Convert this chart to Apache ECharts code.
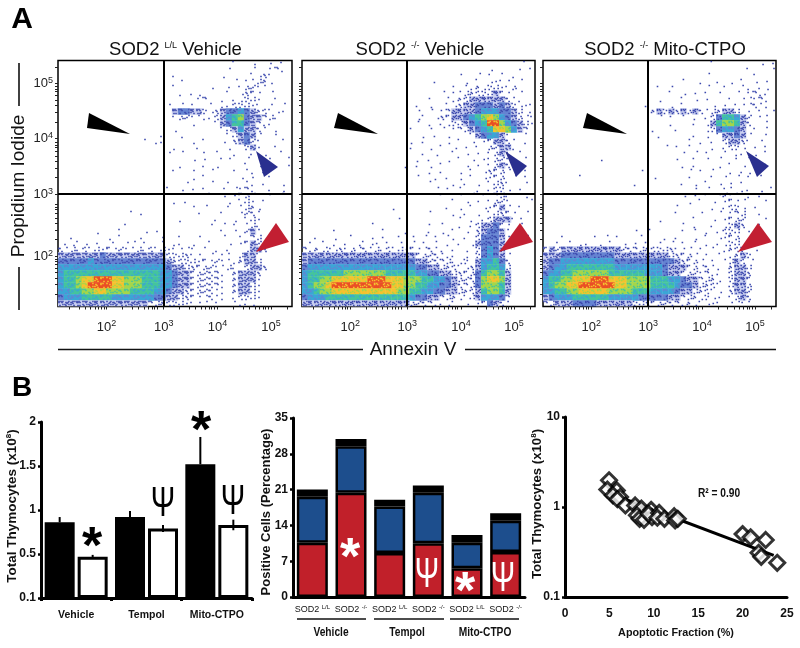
<!DOCTYPE html>
<html>
<head>
<meta charset="utf-8">
<style>html,body{margin:0;padding:0;background:#fff}#chart{width:800px;height:648px}</style>
<script src="https://cdn.jsdelivr.net/npm/echarts@6/dist/echarts.min.js"></script>
</head>
<body>
<div id="chart"></div>
<script>
// flow panels: density per 6px cell, top row first, '.' = empty, 1 = stray dots, 9 = hottest
var sodLLCells = [
".............................1..1..1.1.",
"............................1...1..121.",
"...................1.......1....1121...",
"....................1........1.11221...",
"...................1.....1..1.12211....",
"....................1.11....1.1221.1...",
".......................12..1.11221..1..",
"..................1.1.1..1.1122211.1.1.",
"...................3443321234454322111.",
"...................122111123567433221..",
"......................1...1346643211...",
"...................1.......12353321.1..",
".................1..1.......123431..1..",
"..............1.11....1.1..1.23421...1.",
"...................1...1....1..231..1..",
"..................1.1...1.1..1..1.1..1.",
"......................1.1..11..1...1..1",
"....................1...1.1....1.1....1",
"...................1..1..1...1.11.1....",
"......................1.1.....1.1..1...",
".....................1...1..1..11.1..1.",
"..................1.1.1.1..1.1121..1.1.",
".........................1.1.1221..1.1.",
"...................1.1......1.121.1....",
"......................1.1...1.1221.....",
"............11.........1...1..1221.....",
"....................1.....1..1.121.....",
"...........1.............1.1.1.121.....",
"......1...1...1.1..........1.1.231..1..",
"..1.....1.1..1...1..1..1...1..1.22.....",
".1111.1..1.11.1..1.11.1..1..1.1232.....",
"21212121212112121211111.1.1.1..1332....",
"333333343333333333222211.1.11.2331.....",
"4444454444444444443222212121112332.....",
"555555555555555555433222221121.2332....",
"5666666666666666655433222221.23332.....",
"5667889998877766655433222221.23331.....",
"5667899998877766655433222221.23321.....",
"5566778877776666554332222211.23321.....",
"4555666665555555443322211211.12221.....",
"3333333333333332222221111.1..1111......"
];
var sodKOCells = [
".....................................1.",
"...............................1....1.1",
"..........................1..1.1.1.1...",
"......................1....1.1.1111.1..",
".........................1.112122112...",
".......................1.1122222321.1..",
".....................1..1122333333211..",
"...................1.1..112334443432111",
"...................1.1.12333345554432.1",
"...................11.12233456787543211",
"...................1.1.1122345699754321",
"..................1..1.1.1223456887532.",
"....................1.1.1...1345531..1.",
"..................1.1...1.1.1.123321.1.",
"..................1..1.1.1.1.1.22331...",
"....................1.1..1.1.1.1231.1..",
"...................1.1..1.1.1.11221..1.",
".................1.1.1.1...1.1.1232.1..",
".....................1.1..1.1.12221..1.",
"...................1..1.1.1.1.1122.1.1.",
".....................1...1.1.1.1221..1.",
"......................1.1.1..1.1221.1..",
".......................1..1.1.1.221..1.",
".........................1.1.1.1221...1",
"...............1........1.1.1.11231.1..",
".....................1...1.1.1.12221.1.",
"................1.........1.1.1233311..",
"...........1.........1.1..1.1233421.1..",
".....1.......1...1...1.1.1.1.234431.1..",
"..1..1..1..1.1..1.1.1.1.11.1.244431..1.",
".1.1.1.1.1111.1.1.1.1.1.1.1.1344431.1..",
"212121212121212121211211.1.1.245431....",
"33333333333333333332222111.1.245431....",
"3444444444444444444332222112.355642....",
"45555555555555555554433222112356652....",
"56666667777777666665544332222467763....",
"56677888888999888777665543222478873....",
"56778999999999988776655443222477763....",
"55677888888888887766554433222367763....",
"45556666666666666654433222112355542....",
"33333333333333333322221111.1.124321...."
];
var mitoCells = [
"............................1.......1.1",
"..................................1...1.",
"...........................1.......1...",
".......................1..1..1.1.1.1.1.",
"...................1.1.....1..1..11.11.",
".....................1.1.1.1.1..1.1211.",
"...................1...1.1.1...1.11121.",
".................1...1.1....1.1.111211.",
"..................232323232122332.1.1.1",
"...................1.1.1.1.12466532.11.",
".....................1...1.13677632..1.",
"..................1...1....1245543.1.1.",
"...................1.....1.1.133431..1.",
"........................1.1.1.23321.1..",
"....................1.1.1...1.1221.1.1.",
".......................1.1.1..1.11.1.1.",
".........1............1..1.1.1..1.1....",
".......................1.1...1.1.1.1.1.",
"................1.......1.1.1..1.11....",
"......1...........1.....1...1.1.1.1.1..",
"...............1.......1.1.1.1.1.1.....",
".........................1.1..11.11.1.1",
".......................1.1.1.1211.1.1..",
"........................1.1.1.1211...1.",
"......................1.....1.1221.1...",
"......................1...1..1.122..1..",
"...................1.....1..1.1222...1.",
".......................1.1..1.1232..1..",
"...............1.1.....1.1.1.1222.1....",
"...1....1.1.1...1...1.1..1.1.1122.1....",
"..1.1.11.1.1.1.1.1.1.1.1.1.1.1122.1....",
"2323333333333222222222111.1.1.1222.1...",
"33344444444433333333322221.1.1.1232....",
"344555555555444444444432221.1.1232.1...",
"345566666666555555554333221211.2332....",
"455667777776666665554332221211.2332....",
"566778889998887777666554332221.2332....",
"567788999999887777666654432221.2332....",
"556677888887777666555543322211.2332....",
"345556666665555544444332221211.1232....",
"223334444333333222222221211111.1111...."
];
var panelTitles = ["SOD2 {sup|L/L} Vehicle", "SOD2 {sup|-/-} Vehicle", "SOD2 {sup|-/-} Mito-CTPO"];
var flowLabels = ["2", "3", "4", "5"];
var flowXTicks = [1.97, 3.03, 4.03, 5.02];
var flowYTicks = [1.91, 3.02, 4.02, 5];
var decadeSteps = [0.3, 0.48, 0.6, 0.7, 0.78, 0.85, 0.9, 0.95];
var densityColors = ["#fff", "#3d4aae", "#3d4aae", "#3d4aae", "#6583d2", "#3aa6d6", "#45c49c", "#a4d64a", "#f5c22e", "#ea4f25"];

// total thymocytes bars
var treatments = ["Vehicle", "Tempol", "Mito-CTPO"];
var llCounts = [0.86, 0.92, 1.52];
var llErrTop = [0.92, 0.99, 1.83];
var koCounts = [0.47, 0.79, 0.83];
var koErrTop = [0.49, 0.83, 0.89];
var koErrLow = [0.45, 0.75, 0.77];

// apoptotic stacks
var stackCats = ["SOD2 {s|L/L}", "SOD2 {s|-/-}", "SOD2 {s|L/L}", "SOD2 {s|-/-}", "SOD2 {s|L/L}", "SOD2 {s|-/-}"];
var redPart = [10.6, 20.4, 8.6, 10.5, 5.6, 8.8];
var bluePart = [9.0, 9.1, 9.1, 9.9, 5.0, 6.1];
var blackPart = [1.4, 1.4, 1.3, 1.4, 1.5, 1.5];

// correlation
var apoptotic = [4.96, 4.77, 5.83, 5.4, 6.2, 5.9, 6.8, 7.9, 8.6, 8.1, 8.4, 8.9, 9.7, 9.8, 9.4, 10.6, 10.4, 11.2, 12.3, 12.4, 12.7, 20, 20.9, 22.6, 21.8, 22.1, 23.9];
var thymocytes = [1.98, 1.56, 1.53, 1.35, 1.29, 1.22, 1.04, 1.04, 0.96, 0.81, 0.74, 0.72, 0.93, 0.77, 0.84, 0.86, 0.76, 0.74, 0.79, 0.71, 0.74, 0.5, 0.46, 0.43, 0.31, 0.28, 0.24];
var trendX = [4.9, 23.5];
var trendY = [1.43, 0.29];

var SANS = "Liberation Sans";
var xRange = [1.07, 5.41], yRange = [1.01, 5.41];
var flowGrids = [{left: 58, width: 234, title: 170.5}, {left: 302, width: 233, title: 415}, {left: 543, width: 233, title: 660}];
var speckOffsets = [[-2, -2], [1, -1], [-1, 2], [2, 1], [2, -2], [-2, 1], [0, 0], [-1, -1], [1, 2], [-2, -1], [0, -2]];
var speckCount = [0, 1, 3, 7];

function cellsToData(rows) {
    var out = [];
    var cw = (xRange[1] - xRange[0]) / 39, ch = (yRange[1] - yRange[0]) / 41;
    for (var r = 0; r < rows.length; r++) {
        for (var c = 0; c < rows[r].length; c++) {
            var d = rows[r].charAt(c);
            if (d != ".") out.push([xRange[0] + (c + 0.5) * cw, yRange[1] - (r + 0.5) * ch, +d]);
        }
    }
    return out;
}

// a cell is drawn as loose dots when thin, a filled square with a few specks when dense
function renderCell(params, api) {
    var p = api.coord([api.value(0), api.value(1)]);
    var d = api.value(2);
    var kids = [];
    var start = (params.dataIndex * 3) % speckOffsets.length;
    function speck(k, color) {
        var o = speckOffsets[(start + k) % speckOffsets.length];
        kids.push({type: "rect", shape: {x: p[0] + o[0] - 0.8, y: p[1] + o[1] - 0.8, width: 1.6, height: 1.6}, style: {fill: color}});
    }
    if (d == 3) {
        kids.push({type: "rect", shape: {x: p[0] - 3.2, y: p[1] - 3.2, width: 6.4, height: 6.4}, style: {fill: "#c9cff0"}});
    }
    if (d <= 3) {
        for (var i = 0; i < speckCount[d]; i++) speck(i, densityColors[d]);
    } else {
        kids.push({type: "rect", shape: {x: p[0] - 3.2, y: p[1] - 3.2, width: 6.4, height: 6.4}, style: {fill: densityColors[d]}});
        for (var j = 0; j < 4; j++) speck(j, densityColors[d - 1]);
    }
    return {type: "group", children: kids};
}

function minorTicks(major, range) {
    var out = [];
    var step = major[3] - major[2];
    major.concat([major[0] - step]).forEach(function (m) {
        out.push(m);
        decadeSteps.forEach(function (o) {
            var v = m + o * step;
            if (v > range[0] && v < range[1]) out.push(v);
        });
    });
    return out;
}

function decadeLabel(ticks) {
    return function (v) {
        var i = ticks.indexOf(v);
        return i < 0 ? "" : "{b|10}{e|" + flowLabels[i] + "}";
    };
}
var decadeRich = {
    b: {fontFamily: SANS, fontSize: 13, color: "#222"},
    e: {fontFamily: SANS, fontSize: 9, color: "#222", padding: [0, 0, 6, 0]}
};

var grids = [], xAxes = [], yAxes = [], series = [], titles = [];

flowGrids.forEach(function (g, i) {
    grids.push({left: g.left, top: 60.5, width: g.width, height: 246, show: true, borderColor: "#000", borderWidth: 1.5, backgroundColor: "#fff"});
    xAxes.push({
        type: "value", gridIndex: i, min: xRange[0], max: xRange[1],
        splitLine: {show: false}, axisLine: {show: false},
        axisTick: {length: 3, lineStyle: {color: "#222"}, customValues: minorTicks(flowXTicks, xRange)},
        axisLabel: {margin: 13, customValues: flowXTicks, formatter: decadeLabel(flowXTicks), rich: decadeRich}
    });
    yAxes.push({
        type: "value", gridIndex: i, min: yRange[0], max: yRange[1],
        splitLine: {show: false}, axisLine: {show: false},
        axisTick: {length: 3, lineStyle: {color: "#222"}, customValues: minorTicks(flowYTicks, yRange)},
        axisLabel: {show: i == 0, margin: 5, customValues: flowYTicks, formatter: decadeLabel(flowYTicks), rich: decadeRich}
    });
    series.push({
        type: "custom", xAxisIndex: i, yAxisIndex: i, clip: true,
        encode: {x: 0, y: 1},
        renderItem: renderCell,
        data: cellsToData([sodLLCells, sodKOCells, mitoCells][i]),
        markLine: {
            silent: true, symbol: "none", animation: false, label: {show: false},
            lineStyle: {color: "#000", width: 2, type: "solid"},
            data: [{xAxis: flowXTicks[1]}, {yAxis: flowYTicks[1]}]
        }
    });
    titles.push({
        text: panelTitles[i], left: g.title, top: 35, textAlign: "center",
        textStyle: {fontFamily: SANS, fontSize: 18.5, fontWeight: "normal", color: "#111",
            rich: {sup: {fontFamily: SANS, fontSize: 9, color: "#111", padding: [0, 0, 8, 0]}}}
    });
});

// left bars
var axisBold = {fontFamily: SANS, fontWeight: "bold", fontSize: 11, color: "#111"};
var thickLine = {show: true, lineStyle: {color: "#000", width: 3}};

grids.push({left: 41, top: 422, width: 211, height: 176});
xAxes.push({type: "category", gridIndex: 3, data: treatments, axisLine: thickLine,
    axisTick: {show: true, length: 3, lineStyle: {width: 3, color: "#000"}},
    axisLabel: Object.assign({margin: 12, interval: 0}, axisBold, {fontSize: 10.5})});
yAxes.push({type: "value", gridIndex: 3, min: 0, max: 2, interval: 0.5, splitLine: {show: false},
    axisLine: thickLine, axisTick: {show: true, length: 3, lineStyle: {width: 2.5, color: "#000"}},
    axisLabel: Object.assign({margin: 5, formatter: function (v) { return v == 0 ? "0.1" : v; }}, axisBold, {fontSize: 12})});
series.push({type: "bar", xAxisIndex: 3, yAxisIndex: 3, data: llCounts, barWidth: 30, barGap: "10%",
    itemStyle: {color: "#000", borderColor: "#000", borderWidth: 2.5}});
series.push({type: "bar", xAxisIndex: 3, yAxisIndex: 3, data: koCounts, barWidth: 30,
    itemStyle: {color: "#fff", borderColor: "#000", borderWidth: 3}});

function errSeries(lows, tops, shift) {
    return {
        type: "custom", xAxisIndex: 3, yAxisIndex: 3, z: 5,
        data: lows.map(function (l, i) { return [i, l, tops[i]]; }),
        encode: {x: 0, y: [1, 2]},
        renderItem: function (params, api) {
            var a = api.coord([api.value(0), api.value(1)]);
            var b = api.coord([api.value(0), api.value(2)]);
            return {type: "line", shape: {x1: a[0] + shift, y1: a[1], x2: b[0] + shift, y2: b[1]},
                style: {stroke: "#000", lineWidth: 2}};
        }
    };
}
series.push(errSeries(llCounts, llErrTop, -16.5));
series.push(errSeries(koErrLow, koErrTop, 16.5));

// stacked bars
grids.push({left: 293, top: 418, width: 232, height: 179});
xAxes.push({type: "category", gridIndex: 4, data: stackCats, axisLine: thickLine, axisTick: {show: false},
    axisLabel: {margin: 7, interval: 0, fontFamily: SANS, fontSize: 9, color: "#111",
        rich: {s: {fontFamily: SANS, fontSize: 6, color: "#111", padding: [0, 0, 5, 0]}}}});
yAxes.push({type: "value", gridIndex: 4, min: 0, max: 35, interval: 7, splitLine: {show: false},
    axisLine: thickLine, axisTick: {show: true, length: 3, lineStyle: {width: 2.5, color: "#000"}},
    axisLabel: Object.assign({margin: 5}, axisBold, {fontSize: 12})});
[[redPart, "#c1202a"], [bluePart, "#1d4e8d"], [blackPart, "#000"]].forEach(function (p) {
    series.push({type: "bar", xAxisIndex: 4, yAxisIndex: 4, stack: "cells", data: p[0], barWidth: 31,
        itemStyle: {color: p[1], borderColor: "#000", borderWidth: 2.5}});
});

// correlation scatter
grids.push({left: 565, top: 417, width: 222, height: 180});
xAxes.push({type: "value", gridIndex: 5, min: 0, max: 25, interval: 5, splitLine: {show: false},
    axisLine: thickLine, axisTick: {show: false}, axisLabel: Object.assign({margin: 11}, axisBold, {fontSize: 12}),
    name: "Apoptotic Fraction (%)", nameLocation: "middle", nameGap: 31,
    nameTextStyle: {fontFamily: SANS, fontWeight: "bold", fontSize: 10.8, color: "#111"}});
yAxes.push({type: "log", gridIndex: 5, min: 0.1, max: 10, splitLine: {show: false},
    axisLine: thickLine, axisTick: {show: true, length: 3, lineStyle: {width: 2.5, color: "#000"}},
    axisLabel: Object.assign({margin: 5}, axisBold, {fontSize: 12})});
series.push({type: "line", xAxisIndex: 5, yAxisIndex: 5, symbol: "none", z: 2,
    data: trendX.map(function (x, i) { return [x, trendY[i]]; }),
    lineStyle: {color: "#000", width: 3}});
series.push({type: "scatter", xAxisIndex: 5, yAxisIndex: 5, symbol: "diamond", symbolSize: 15, z: 3,
    data: apoptotic.map(function (x, i) { return [x, thymocytes[i]]; }),
    itemStyle: {color: "#fff", borderColor: "#000", borderWidth: 3}});

// arrowheads, panel letters, brackets and significance marks
function tri(pts, color) {
    return {type: "polygon", z: 100, shape: {points: pts}, style: {fill: color}};
}
function txt(x, y, s, size, color, extra, sx) {
    return {type: "text", z: 100, x: x, y: y, scaleX: sx || 1, style: Object.assign({text: s, fontSize: size, fill: color,
        fontFamily: SANS, align: "center", verticalAlign: "middle"}, extra || {})};
}
function vtxt(x, y, s, size, extra) {
    return {type: "text", z: 100, x: x, y: y, rotation: Math.PI / 2, style: Object.assign({text: s, fontSize: size, fill: "#111",
        fontFamily: SANS, align: "center", verticalAlign: "middle"}, extra || {})};
}
function seg(x1, y1, x2, y2, w) {
    return {type: "line", z: 100, shape: {x1: x1, y1: y1, x2: x2, y2: y2}, style: {stroke: "#111", lineWidth: w}};
}
var BOLD = {fontWeight: "bold"};
var SUP8 = {fontWeight: "bold", rich: {e: {fontFamily: SANS, fontWeight: "bold", fontSize: 8, fill: "#111", padding: [0, 0, 6, 0]}}};
var overlays = [
    tri([[89, 113], [130, 134], [87, 128]], "#000"),
    tri([[256, 151], [278, 167], [264, 177]], "#2a2f8f"),
    tri([[276, 223], [289, 242], [256, 252]], "#c21f32"),
    tri([[338, 113], [378, 134], [334, 128]], "#000"),
    tri([[505, 151], [527, 166], [516, 177]], "#2a2f8f"),
    tri([[520, 223], [533, 242], [499, 252]], "#c21f32"),
    tri([[587, 113], [627, 134], [583, 128]], "#000"),
    tri([[746, 151], [769, 166], [757, 177]], "#2a2f8f"),
    tri([[758, 223], [772, 242], [738, 252]], "#c21f32"),
    txt(22, 20, "A", 30, "#000", BOLD),
    txt(22, 388, "B", 28, "#000", BOLD),
    vtxt(19, 186, "Propidium Iodide", 19),
    seg(19, 63, 19, 106, 1.6),
    seg(19, 267, 19, 310, 1.6),
    txt(413, 350, "Annexin V", 19, "#111"),
    seg(58, 349.5, 363, 349.5, 1.6),
    seg(465, 349.5, 776, 349.5, 1.6),
    vtxt(12, 506, "Total Thymocytes (x10{e|8})", 13.5, SUP8),
    vtxt(266, 512, "Positive Cells (Percentage)", 13, BOLD),
    vtxt(537, 504, "Total Thymocytes (x10{e|8})", 13.2, SUP8),
    txt(92, 549, "*", 52, "#000", BOLD),
    txt(201, 433, "*", 52, "#000", BOLD),
    txt(163, 504, "Ψ", 43, "#000", null, 0.68),
    txt(233, 502, "Ψ", 43, "#000", null, 0.68),
    txt(350, 560, "*", 52, "#fff", BOLD),
    txt(465, 594, "*", 52, "#fff", BOLD),
    txt(427, 575, "Ψ", 43, "#fff", null, 0.68),
    txt(503, 579, "Ψ", 43, "#fff", null, 0.68),
    seg(297, 619, 366, 619, 1.5),
    seg(374, 619, 444, 619, 1.5),
    seg(450, 619, 519, 619, 1.5),
    txt(331, 633, "Vehicle", 12, "#111", BOLD, 0.85),
    txt(407, 633, "Tempol", 12, "#111", BOLD, 0.85),
    txt(485, 633, "Mito-CTPO", 12, "#111", BOLD, 0.85),
    txt(719, 494, "R² = 0.90", 12, "#111", BOLD, 0.85)
];

var charts = echarts.init(document.getElementById("chart"), null, {renderer: "canvas"});
var option = {
    animation: false,
    backgroundColor: "#fff",
    title: titles,
    grid: grids,
    xAxis: xAxes,
    yAxis: yAxes,
    series: series,
    graphic: {elements: overlays}
};
charts.setOption(option);
</script>
</body>
</html>
